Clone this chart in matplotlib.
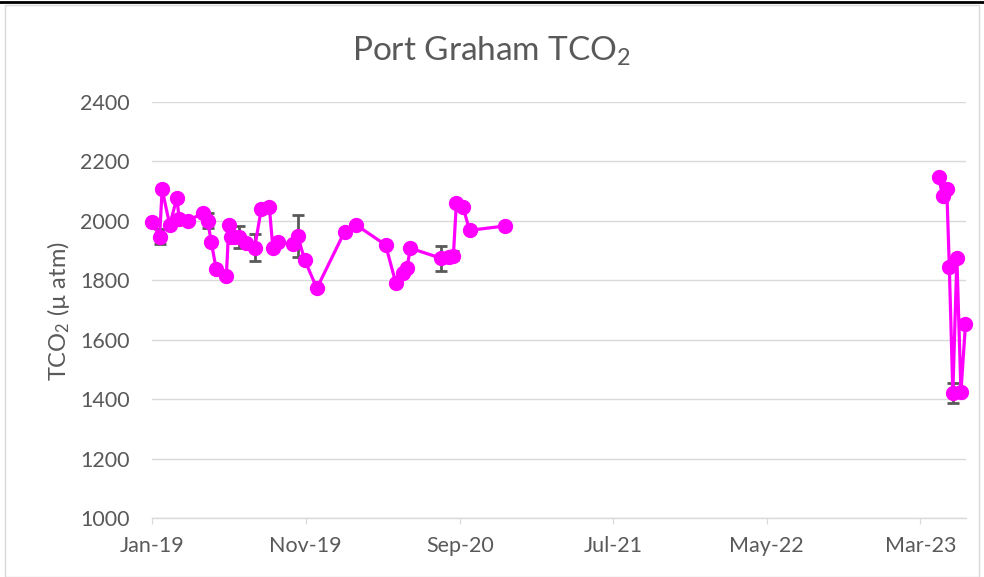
import matplotlib.pyplot as plt
import matplotlib.dates as mdates
import numpy as np
import pandas as pd
from matplotlib.patches import Rectangle
from matplotlib.lines import Line2D

plt.rcParams["font.family"] = ["Lato", "DejaVu Sans"]
plt.rcParams["mathtext.fontset"] = "custom"
plt.rcParams["mathtext.rm"] = "Lato"
plt.rcParams["mathtext.it"] = "Lato:italic"

# sample dates and TCO2 values
dates = [
    "2019-01-01", "2019-01-16", "2019-01-21", "2019-02-05", "2019-02-19", "2019-02-24", "2019-03-13",
    "2019-04-11", "2019-04-21", "2019-04-28", "2019-05-08", "2019-05-28", "2019-06-02", "2019-06-07",
    "2019-06-13", "2019-06-23", "2019-07-06", "2019-07-23", "2019-08-05", "2019-08-21", "2019-08-28",
    "2019-09-07", "2019-10-06", "2019-10-16", "2019-10-30", "2019-11-23",
    "2020-01-17", "2020-02-09", "2020-04-07", "2020-04-27", "2020-05-11", "2020-05-19", "2020-05-26",
    "2020-07-26", "2020-08-10", "2020-08-19", "2020-08-25", "2020-09-07", "2020-09-20", "2020-11-30",
    "2023-04-06", "2023-04-14", "2023-04-22", "2023-04-27", "2023-05-04", "2023-05-12", "2023-05-20",
    "2023-05-29",
]
tco2 = [
    1997, 1947, 2106, 1986, 2076, 2005, 2001,
    2025, 2001, 1930, 1837, 1815, 1986, 1945,
    1947, 1945, 1925, 1910, 2039, 2046, 1910,
    1928, 1922, 1950, 1868, 1773,
    1964, 1986, 1919, 1792, 1826, 1840, 1908,
    1874, 1877, 1882, 2060, 2048, 1968, 1983,
    2147, 2082, 2106, 1846, 1421, 1874, 1425,
    1652,
]
tco2_err = [
    0, 25, 0, 0, 0, 0, 0,
    0, 25, 0, 0, 0, 0, 0,
    0, 37, 0, 45, 0, 0, 0,
    0, 0, 70, 0, 0,
    0, 0, 0, 0, 0, 0, 0,
    43, 0, 15, 0, 0, 0, 0,
    0, 0, 0, 0, 33, 0, 0,
    0,
]
tick_dates = ["2019-01-01", "2019-11-01", "2020-09-01", "2021-07-01", "2022-05-01", "2023-03-01"]
y_ticks = [1000, 1200, 1400, 1600, 1800, 2000, 2200, 2400]

x = pd.to_datetime(dates)
y = np.array(tco2, dtype=float)
err = np.array(tco2_err, dtype=float)

fig = plt.figure(figsize=(9.84, 5.77), dpi=100)
fig.patch.set_facecolor("white")
ax = fig.add_axes([0.1545, 0.1023, 0.8272, 0.7209])

grid_c = "#D9D9D9"
text_c = "#595959"
pink = "#FF00FF"

has_err = err > 0
ax.errorbar(x[has_err], y[has_err], yerr=err[has_err], fmt="none",
            ecolor="#595959", elinewidth=2, capsize=4, capthick=2, zorder=2)

# gap between 2020 and 2023 is drawn as a break
gap = x > pd.Timestamp("2022-01-01")
for sel in (~gap, gap):
    ax.plot(x[sel], y[sel], color=pink, lw=2.3, marker="o", ms=10,
            markerfacecolor=pink, markeredgecolor=pink, zorder=3, clip_on=False)

ax.set_xlim(pd.Timestamp("2019-01-01"), pd.Timestamp("2023-05-30"))
ax.set_ylim(1000, 2400)
ax.set_yticks(y_ticks)
ax.set_xticks(pd.to_datetime(tick_dates))
ax.xaxis.set_major_formatter(mdates.DateFormatter("%b-%y"))

ax.grid(axis="y", color=grid_c, lw=1)
ax.set_axisbelow(True)
for side in ("left", "right", "top"):
    ax.spines[side].set_visible(False)
ax.spines["bottom"].set_color(grid_c)
ax.spines["bottom"].set_linewidth(1)

ax.tick_params(axis="y", length=0, pad=16, labelsize=15.5, labelcolor=text_c)
ax.tick_params(axis="x", length=4, color=grid_c, pad=9, labelsize=15.5, labelcolor=text_c)

fig.text(58 / 984, 1 - 311 / 577, "TCO$_2$ (µ atm)", rotation=90, ha="center", va="center",
         fontsize=17, color=text_c)
fig.text(0.5, 1 - 61 / 577, "Port Graham TCO$_2$", ha="center", va="baseline",
         fontsize=24, color=text_c)

# chart frame like the spreadsheet export
fig.patches.append(Rectangle((5 / 984, 0), 974 / 984, 572 / 577, transform=fig.transFigure,
                             fill=False, edgecolor=grid_c, lw=1))
fig.lines.append(Line2D([0, 1], [1 - 2 / 577, 1 - 2 / 577], transform=fig.transFigure,
                        color="black", lw=2))

fig.savefig("out.png", dpi=100, facecolor="white")
